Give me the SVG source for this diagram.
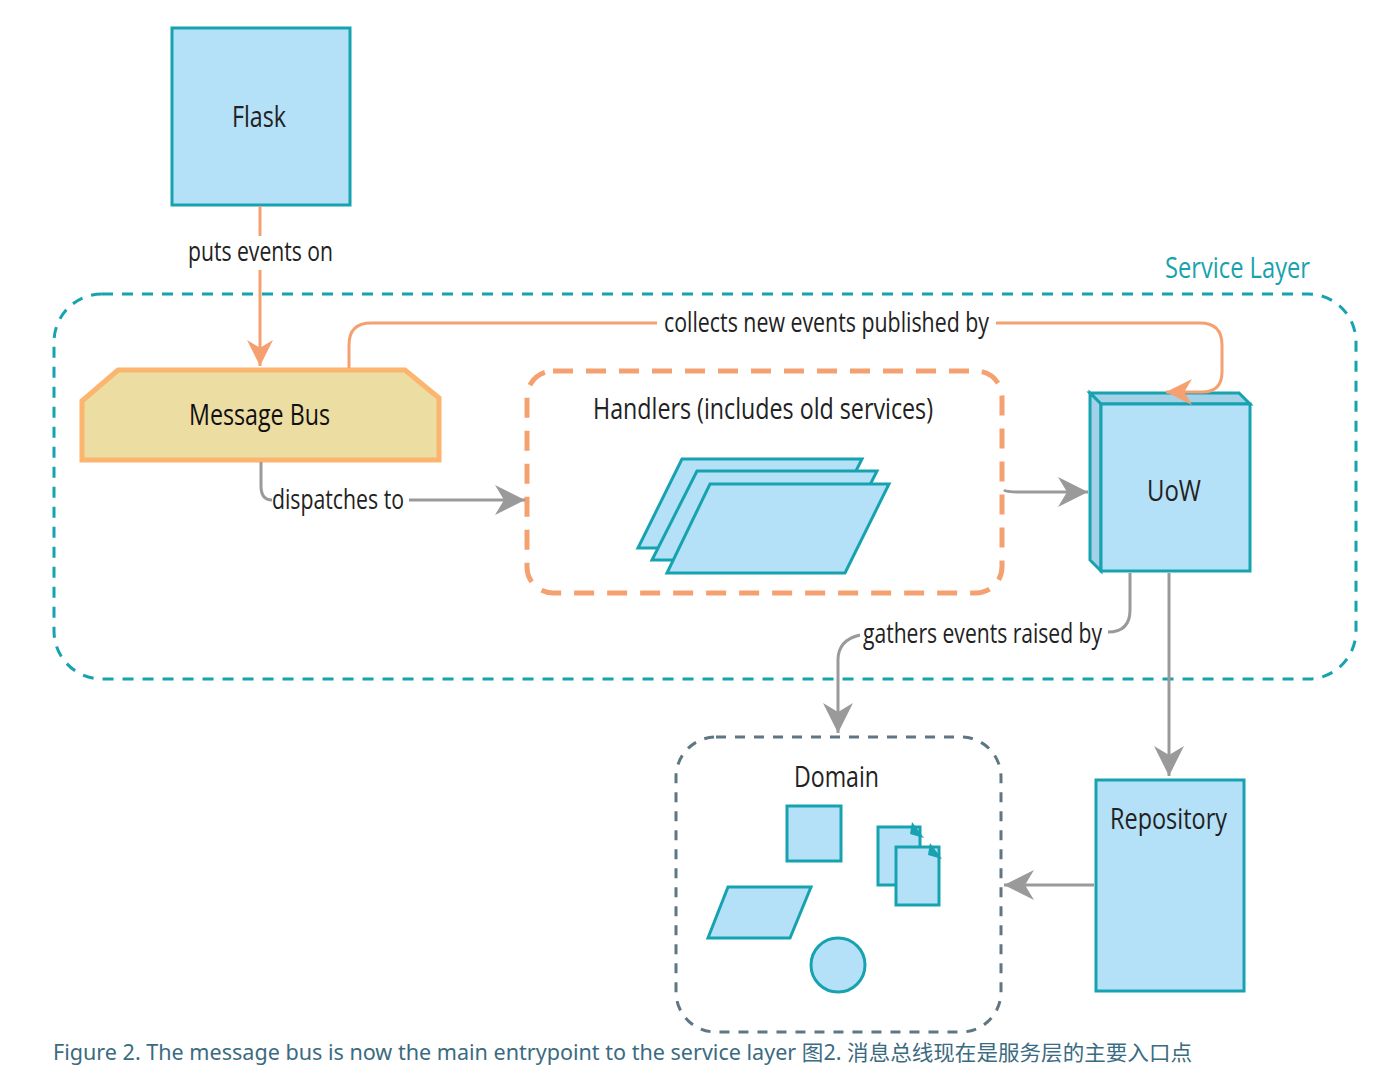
<svg xmlns="http://www.w3.org/2000/svg" width="1383" height="1082" viewBox="0 0 1383 1082">
<style>
.box{fill:#b5e1f8;stroke:#17a2b0;stroke-width:3}
.side{fill:#a3d1e8;stroke:#17a2b0;stroke-width:3}
.lbl{font-family:"Open Sans","Noto Sans",sans-serif;fill:#222;}
.or{fill:none;stroke:#f5a070;stroke-width:3}
.gr{fill:none;stroke:#9a9a9a;stroke-width:3}
</style>
<defs>
<marker id="ao" viewBox="0 0 20 20" refX="20" refY="10" markerWidth="26" markerHeight="26" markerUnits="userSpaceOnUse" orient="auto">
<path d="M0,0 L20,10 L0,20 L6,10 Z" fill="#f5a070"/>
</marker>
<marker id="ag" viewBox="0 0 20 20" refX="20" refY="10" markerWidth="30" markerHeight="30" markerUnits="userSpaceOnUse" orient="auto">
<path d="M0,0 L20,10 L0,20 L6,10 Z" fill="#9a9a9a"/>
</marker>
</defs>
<rect width="1383" height="1082" fill="#fff"/>

<g id="service-layer">
<rect x="54" y="294" width="1302" height="385" rx="48" fill="none" stroke="#17a2b0" stroke-width="3" stroke-dasharray="11,9"/>
<text x="1165" y="278" class="lbl" style="fill:#17a2b0" font-size="30" textLength="145" lengthAdjust="spacingAndGlyphs">Service Layer</text>
</g>

<g id="flask">
<rect class="box" x="172" y="28" width="178" height="177"/>
<text x="232" y="127" class="lbl" font-size="30" textLength="54" lengthAdjust="spacingAndGlyphs">Flask</text>
</g>

<g id="message-bus">
<polygon points="82,401 118,370 405,370 439,398 439,460 82,460" fill="#ecdda3" stroke="#fbb56e" stroke-width="5"/>
<text x="189" y="425" class="lbl" font-size="30" textLength="141" lengthAdjust="spacingAndGlyphs" style="fill:#111">Message Bus</text>
</g>

<g id="handlers">
<rect x="527" y="371" width="475" height="222" rx="26" fill="none" stroke="#f5a070" stroke-width="5" stroke-dasharray="20,13"/>
<text x="593" y="419" class="lbl" font-size="30" textLength="340" lengthAdjust="spacingAndGlyphs">Handlers (includes old services)</text>
<polygon class="box" points="682,459 862,459 817,548 638,548"/>
<polygon class="box" points="697,471 877,471 832,560 652,560"/>
<polygon class="box" points="710,484 889,484 845,573 667,573"/>
</g>

<g id="uow">
<polygon class="side" points="1090,393 1239,393 1250,404 1101,404"/>
<polygon class="side" points="1090,393 1101,404 1101,571 1090,560"/>
<rect class="box" x="1101" y="404" width="149" height="167"/>
<text x="1147" y="501" class="lbl" font-size="30" textLength="54" lengthAdjust="spacingAndGlyphs">UoW</text>
</g>

<g id="domain">
<rect x="676" y="737" width="325" height="295" rx="40" fill="none" stroke="#5f7784" stroke-width="3" stroke-dasharray="10,9"/>
<text x="794" y="787" class="lbl" font-size="30" textLength="85" lengthAdjust="spacingAndGlyphs">Domain</text>
<rect class="box" x="787" y="806" width="54" height="55"/>
<polygon class="box" points="728,887 811,887 790,938 708,938"/>
<circle class="box" cx="838" cy="965" r="27"/>
<path class="box" d="M878,827 H920 V885 H878 Z"/>
<path d="M912,822 L924,838 L910,834 Z" fill="#17a2b0"/>
<path class="box" d="M896,847 H939 V905 H896 Z"/>
<path d="M930,843 L942,859 L928,855 Z" fill="#17a2b0"/>
</g>

<g id="repository">
<rect class="box" x="1096" y="780" width="148" height="211"/>
<text x="1110" y="829" class="lbl" font-size="30" textLength="117" lengthAdjust="spacingAndGlyphs">Repository</text>
</g>

<g id="connectors">
<path class="or" d="M260,206 V236"/>
<path class="or" d="M260,270 V366" marker-end="url(#ao)"/>
<path class="or" d="M349,368 V345 Q349,323 371,323 H657"/>
<path class="or" d="M996,323 H1200 Q1222,323 1222,345 V372 Q1222,392 1202,392 H1166" marker-end="url(#ao)"/>
<path class="gr" d="M261,462 V486 Q261,500 272,500"/>
<path class="gr" d="M409,500 H525" marker-end="url(#ag)"/>
<path class="gr" d="M1004,490 Q1006,492 1020,492 H1088" marker-end="url(#ag)"/>
<path class="gr" d="M1130,573 V610 Q1130,632 1108,632"/>
<path class="gr" d="M860,635 Q838,640 838,660 V733" marker-end="url(#ag)"/>
<path class="gr" d="M1169,573 V776" marker-end="url(#ag)"/>
<path class="gr" d="M1094,885 H1004" marker-end="url(#ag)"/>
<text x="188" y="261" class="lbl" font-size="28" textLength="145" lengthAdjust="spacingAndGlyphs">puts events on</text>
<text x="664" y="332" class="lbl" font-size="28" textLength="325" lengthAdjust="spacingAndGlyphs">collects new events published by</text>
<text x="272" y="509" class="lbl" font-size="28" textLength="132" lengthAdjust="spacingAndGlyphs">dispatches to</text>
<text x="863" y="643" class="lbl" font-size="28" textLength="239" lengthAdjust="spacingAndGlyphs">gathers events raised by</text>
</g>

<text x="53" y="1060" font-family="Noto Sans, Noto Sans CJK SC, sans-serif" font-size="21" fill="#3b6b80" textLength="1139" lengthAdjust="spacingAndGlyphs">Figure 2. The message bus is now the main entrypoint to the service layer 图2. 消息总线现在是服务层的主要入口点</text>
</svg>
